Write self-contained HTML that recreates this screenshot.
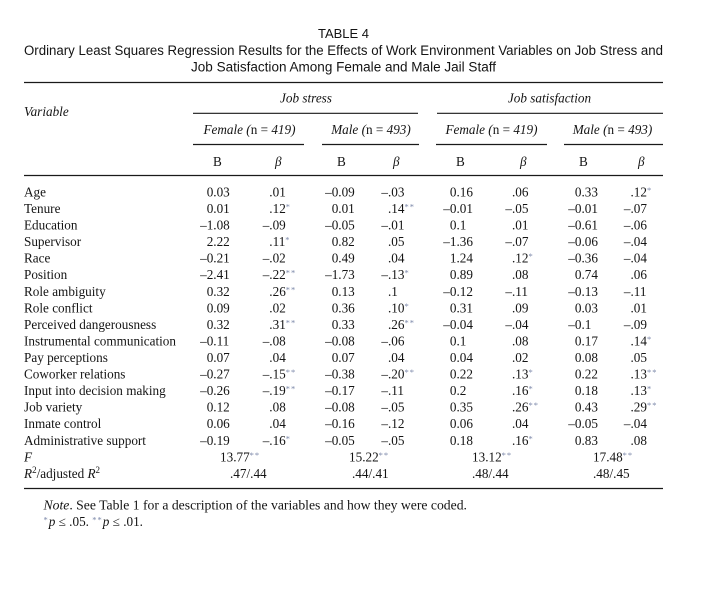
<!DOCTYPE html>
<html><head><meta charset="utf-8">
<style>
html,body{margin:0;padding:0;background:#fff;}
svg{display:block;}
.t{font-family:"Liberation Serif","Times New Roman",serif;font-size:13.2px;fill:#141414;}
.i{font-style:italic;}
.h{font-family:"Liberation Sans",Arial,sans-serif;fill:#141414;}
.s{font-size:8.5px;fill:#7a86a8;letter-spacing:1px;}
line{stroke:#1a1a1a;stroke-width:1.2;}
</style></head><body>
<svg width="701" height="590" viewBox="0 0 701 590" xmlns="http://www.w3.org/2000/svg">
<rect width="701" height="590" fill="#fff"/>
<text class="h" x="343.5" y="38" text-anchor="middle" font-size="13">TABLE 4</text>
<text class="h" x="24" y="55" font-size="13.5" textLength="639" lengthAdjust="spacingAndGlyphs">Ordinary Least Squares Regression Results for the Effects of Work Environment Variables on Job Stress and</text>
<text class="h" x="191" y="71.5" font-size="13.5" textLength="305" lengthAdjust="spacingAndGlyphs">Job Satisfaction Among Female and Male Jail Staff</text>

<line x1="24" y1="82.5" x2="663" y2="82.5"/>
<text class="t i" x="306" y="102.5" text-anchor="middle">Job stress</text>
<text class="t i" x="549.5" y="102.5" text-anchor="middle">Job satisfaction</text>
<text class="t i" x="24" y="116">Variable</text>
<line x1="193" y1="113.3" x2="418" y2="113.3"/>
<line x1="437" y1="113.3" x2="663" y2="113.3"/>

<text class="t" x="249.5" y="134" text-anchor="middle"><tspan class="i">Female (</tspan>n = <tspan class="i">419)</tspan></text>
<text class="t" x="371" y="134" text-anchor="middle"><tspan class="i">Male (</tspan>n = <tspan class="i">493)</tspan></text>
<text class="t" x="491.5" y="134" text-anchor="middle"><tspan class="i">Female (</tspan>n = <tspan class="i">419)</tspan></text>
<text class="t" x="612.5" y="134" text-anchor="middle"><tspan class="i">Male (</tspan>n = <tspan class="i">493)</tspan></text>
<line x1="193" y1="144.5" x2="304" y2="144.5"/>
<line x1="322" y1="144.5" x2="419" y2="144.5"/>
<line x1="436" y1="144.5" x2="547" y2="144.5"/>
<line x1="564" y1="144.5" x2="663" y2="144.5"/>

<text class="t" x="213" y="166">B</text>
<text class="t i" x="275" y="166">β</text>
<text class="t" x="337" y="166">B</text>
<text class="t i" x="393" y="166">β</text>
<text class="t" x="456" y="166">B</text>
<text class="t i" x="520" y="166">β</text>
<text class="t" x="579" y="166">B</text>
<text class="t i" x="638" y="166">β</text>
<line x1="24" y1="175.5" x2="663" y2="175.5"/>

<g class="t">
<text x="24" y="196.4">Age</text>
<text x="206.7" y="196.4">0.03</text><text x="269.3" y="196.4">.01</text><text x="325.1" y="196.4">–0.09</text><text x="381.4" y="196.4">–.03</text>
<text x="449.9" y="196.4">0.16</text><text x="512" y="196.4">.06</text><text x="574.9" y="196.4">0.33</text><text x="630.5" y="196.4">.12<tspan class="s" dy="-3.5">*</tspan></text>
<text x="24" y="213">Tenure</text>
<text x="206.7" y="213">0.01</text><text x="269.3" y="213">.12<tspan class="s" dy="-3.5">*</tspan></text><text x="331.7" y="213">0.01</text><text x="388" y="213">.14<tspan class="s" dy="-3.5">**</tspan></text>
<text x="443.3" y="213">–0.01</text><text x="505.4" y="213">–.05</text><text x="568.3" y="213">–0.01</text><text x="623.9" y="213">–.07</text>
<text x="24" y="229.5">Education</text>
<text x="200.1" y="229.5">–1.08</text><text x="262.7" y="229.5">–.09</text><text x="325.1" y="229.5">–0.05</text><text x="381.4" y="229.5">–.01</text>
<text x="449.9" y="229.5">0.1</text><text x="512" y="229.5">.01</text><text x="568.3" y="229.5">–0.61</text><text x="623.9" y="229.5">–.06</text>
<text x="24" y="246.1">Supervisor</text>
<text x="206.7" y="246.1">2.22</text><text x="269.3" y="246.1">.11<tspan class="s" dy="-3.5">*</tspan></text><text x="331.7" y="246.1">0.82</text><text x="388" y="246.1">.05</text>
<text x="443.3" y="246.1">–1.36</text><text x="505.4" y="246.1">–.07</text><text x="568.3" y="246.1">–0.06</text><text x="623.9" y="246.1">–.04</text>
<text x="24" y="262.6">Race</text>
<text x="200.1" y="262.6">–0.21</text><text x="262.7" y="262.6">–.02</text><text x="331.7" y="262.6">0.49</text><text x="388" y="262.6">.04</text>
<text x="449.9" y="262.6">1.24</text><text x="512" y="262.6">.12<tspan class="s" dy="-3.5">*</tspan></text><text x="568.3" y="262.6">–0.36</text><text x="623.9" y="262.6">–.04</text>
<text x="24" y="279.2">Position</text>
<text x="200.1" y="279.2">–2.41</text><text x="262.7" y="279.2">–.22<tspan class="s" dy="-3.5">**</tspan></text><text x="325.1" y="279.2">–1.73</text><text x="381.4" y="279.2">–.13<tspan class="s" dy="-3.5">*</tspan></text>
<text x="449.9" y="279.2">0.89</text><text x="512" y="279.2">.08</text><text x="574.9" y="279.2">0.74</text><text x="630.5" y="279.2">.06</text>
<text x="24" y="295.8">Role ambiguity</text>
<text x="206.7" y="295.8">0.32</text><text x="269.3" y="295.8">.26<tspan class="s" dy="-3.5">**</tspan></text><text x="331.7" y="295.8">0.13</text><text x="388" y="295.8">.1</text>
<text x="443.3" y="295.8">–0.12</text><text x="505.4" y="295.8">–.11</text><text x="568.3" y="295.8">–0.13</text><text x="623.9" y="295.8">–.11</text>
<text x="24" y="312.3">Role conflict</text>
<text x="206.7" y="312.3">0.09</text><text x="269.3" y="312.3">.02</text><text x="331.7" y="312.3">0.36</text><text x="388" y="312.3">.10<tspan class="s" dy="-3.5">*</tspan></text>
<text x="449.9" y="312.3">0.31</text><text x="512" y="312.3">.09</text><text x="574.9" y="312.3">0.03</text><text x="630.5" y="312.3">.01</text>
<text x="24" y="328.9">Perceived dangerousness</text>
<text x="206.7" y="328.9">0.32</text><text x="269.3" y="328.9">.31<tspan class="s" dy="-3.5">**</tspan></text><text x="331.7" y="328.9">0.33</text><text x="388" y="328.9">.26<tspan class="s" dy="-3.5">**</tspan></text>
<text x="443.3" y="328.9">–0.04</text><text x="505.4" y="328.9">–.04</text><text x="568.3" y="328.9">–0.1</text><text x="623.9" y="328.9">–.09</text>
<text x="24" y="345.4">Instrumental communication</text>
<text x="200.1" y="345.4">–0.11</text><text x="262.7" y="345.4">–.08</text><text x="325.1" y="345.4">–0.08</text><text x="381.4" y="345.4">–.06</text>
<text x="449.9" y="345.4">0.1</text><text x="512" y="345.4">.08</text><text x="574.9" y="345.4">0.17</text><text x="630.5" y="345.4">.14<tspan class="s" dy="-3.5">*</tspan></text>
<text x="24" y="362">Pay perceptions</text>
<text x="206.7" y="362">0.07</text><text x="269.3" y="362">.04</text><text x="331.7" y="362">0.07</text><text x="388" y="362">.04</text>
<text x="449.9" y="362">0.04</text><text x="512" y="362">.02</text><text x="574.9" y="362">0.08</text><text x="630.5" y="362">.05</text>
<text x="24" y="378.6">Coworker relations</text>
<text x="200.1" y="378.6">–0.27</text><text x="262.7" y="378.6">–.15<tspan class="s" dy="-3.5">**</tspan></text><text x="325.1" y="378.6">–0.38</text><text x="381.4" y="378.6">–.20<tspan class="s" dy="-3.5">**</tspan></text>
<text x="449.9" y="378.6">0.22</text><text x="512" y="378.6">.13<tspan class="s" dy="-3.5">*</tspan></text><text x="574.9" y="378.6">0.22</text><text x="630.5" y="378.6">.13<tspan class="s" dy="-3.5">**</tspan></text>
<text x="24" y="395.1">Input into decision making</text>
<text x="200.1" y="395.1">–0.26</text><text x="262.7" y="395.1">–.19<tspan class="s" dy="-3.5">**</tspan></text><text x="325.1" y="395.1">–0.17</text><text x="381.4" y="395.1">–.11</text>
<text x="449.9" y="395.1">0.2</text><text x="512" y="395.1">.16<tspan class="s" dy="-3.5">*</tspan></text><text x="574.9" y="395.1">0.18</text><text x="630.5" y="395.1">.13<tspan class="s" dy="-3.5">*</tspan></text>
<text x="24" y="411.7">Job variety</text>
<text x="206.7" y="411.7">0.12</text><text x="269.3" y="411.7">.08</text><text x="325.1" y="411.7">–0.08</text><text x="381.4" y="411.7">–.05</text>
<text x="449.9" y="411.7">0.35</text><text x="512" y="411.7">.26<tspan class="s" dy="-3.5">**</tspan></text><text x="574.9" y="411.7">0.43</text><text x="630.5" y="411.7">.29<tspan class="s" dy="-3.5">**</tspan></text>
<text x="24" y="428.2">Inmate control</text>
<text x="206.7" y="428.2">0.06</text><text x="269.3" y="428.2">.04</text><text x="325.1" y="428.2">–0.16</text><text x="381.4" y="428.2">–.12</text>
<text x="449.9" y="428.2">0.06</text><text x="512" y="428.2">.04</text><text x="568.3" y="428.2">–0.05</text><text x="623.9" y="428.2">–.04</text>
<text x="24" y="444.8">Administrative support</text>
<text x="200.1" y="444.8">–0.19</text><text x="262.7" y="444.8">–.16<tspan class="s" dy="-3.5">*</tspan></text><text x="325.1" y="444.8">–0.05</text><text x="381.4" y="444.8">–.05</text>
<text x="449.9" y="444.8">0.18</text><text x="512" y="444.8">.16<tspan class="s" dy="-3.5">*</tspan></text><text x="574.9" y="444.8">0.83</text><text x="630.5" y="444.8">.08</text>
<text x="24" y="461.4" class="i">F</text>
<text x="220" y="461.4">13.77<tspan class="s" dy="-3.5">**</tspan></text>
<text x="349" y="461.4">15.22<tspan class="s" dy="-3.5">**</tspan></text>
<text x="472" y="461.4">13.12<tspan class="s" dy="-3.5">**</tspan></text>
<text x="593" y="461.4">17.48<tspan class="s" dy="-3.5">**</tspan></text>
<text x="24" y="477.9"><tspan class="i">R</tspan><tspan font-size="9" dy="-5">2</tspan><tspan dy="5">/adjusted </tspan><tspan class="i">R</tspan><tspan font-size="9" dy="-5">2</tspan></text>
<text x="230" y="477.9">.47/.44</text>
<text x="352" y="477.9">.44/.41</text>
<text x="472" y="477.9">.48/.44</text>
<text x="593" y="477.9">.48/.45</text>
</g>

<line x1="24" y1="488.5" x2="663" y2="488.5"/>

<text class="t" x="43.5" y="509.5" textLength="423.5" lengthAdjust="spacingAndGlyphs"><tspan class="i">Note</tspan>. See Table 1 for a description of the variables and how they were coded.</text>
<text class="t" x="43.5" y="526"><tspan class="s" dy="-3.5">*</tspan><tspan class="i" dy="3.5">p</tspan> ≤ .05. <tspan class="s" dy="-3.5">**</tspan><tspan class="i" dy="3.5">p</tspan> ≤ .01.</text>
</svg>
</body></html>
